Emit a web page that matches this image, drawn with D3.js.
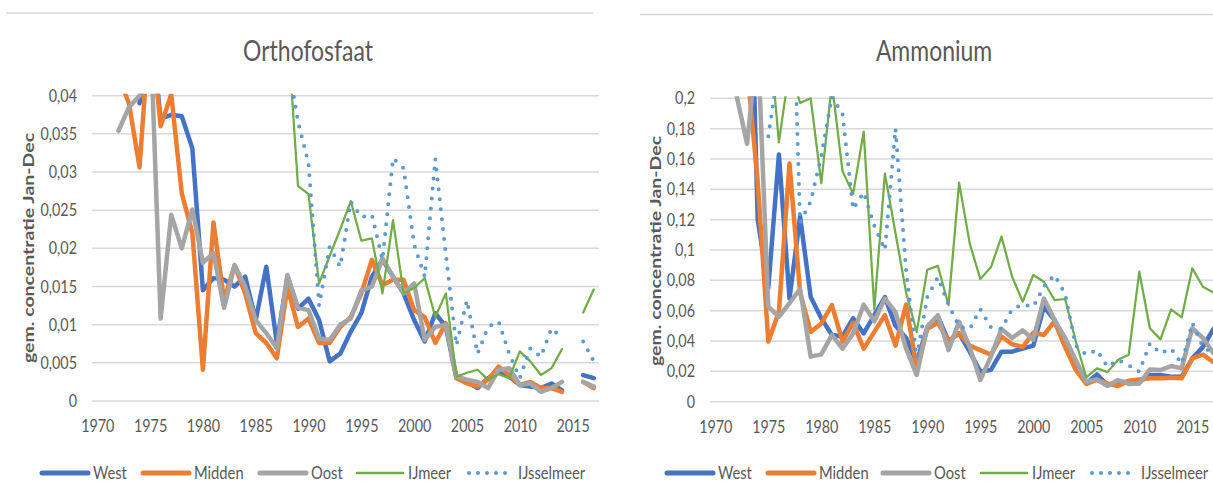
<!DOCTYPE html>
<html><head><meta charset="utf-8">
<script src="https://cdn.jsdelivr.net/npm/d3@7"></script>
<style>
html,body{margin:0;padding:0;background:#fff;}
svg{display:block;}
text{font-family:Lato,"Liberation Sans",Arial,sans-serif;fill:#595959;}
</style></head><body>
<svg id="c" width="1213" height="503"></svg>
<script>
// ---------- DATA ----------
const years = [1970,1971,1972,1973,1974,1975,1976,1977,1978,1979,
               1980,1981,1982,1983,1984,1985,1986,1987,1988,1989,
               1990,1991,1992,1993,1994,1995,1996,1997,1998,1999,
               2000,2001,2002,2003,2004,2005,2006,2007,2008,2009,
               2010,2011,2012,2013,2014,2015,2016,2017];
const xTickYears = [1970,1975,1980,1985,1990,1995,2000,2005,2010,2015];
const seriesNames = ["West","Midden","Oost","IJmeer","IJsselmeer"];
const seriesColors = ["#4472C4","#ED7D31","#A5A5A5","#70AD47","#5B9BD5"];

const yTicksP = [0,0.005,0.01,0.015,0.02,0.025,0.03,0.035,0.04];
const yTickLabelsP = ["0","0,005","0,01","0,015","0,02","0,025","0,03","0,035","0,04"];
const yTicksN = [0,0.02,0.04,0.06,0.08,0.1,0.12,0.14,0.16,0.18,0.2];
const yTickLabelsN = ["0","0,02","0,04","0,06","0,08","0,1","0,12","0,14","0,16","0,18","0,2"];

// Orthofosfaat
const pWest = [null,null,null,null,0.039,0.05,0.037,0.0375,0.0373,0.0331,
  0.0145,0.0161,0.0159,0.015,0.0163,0.0106,0.0176,0.0076,0.0163,0.0121,
  0.0134,0.0106,0.0052,0.0062,0.0091,0.0115,0.0163,0.0185,0.0163,0.0141,
  0.0106,0.0078,0.0115,0.0097,0.003,0.0025,0.0017,0.003,0.0038,0.0032,
  0.0021,0.0019,0.0017,0.0023,0.0014,null,0.0034,0.003];
const pMidden = [null,null,0.0425,0.039,0.0306,0.05,0.036,0.0402,0.0272,0.022,
  0.0041,0.0234,0.0132,0.0178,0.0141,0.0089,0.0076,0.0056,0.0149,0.0097,
  0.0108,0.0076,0.0076,0.0097,0.011,0.0141,0.0185,0.0152,0.0159,0.0159,
  0.0119,0.011,0.0076,0.0102,0.003,0.0023,0.0019,0.0028,0.0045,0.0034,
  0.0021,0.0025,0.0017,0.0017,0.0012,null,0.0025,0.0017];
const pOost = [null,null,0.0354,0.0385,0.040,0.05,0.0108,0.0244,0.020,0.0251,
  0.0181,0.0194,0.0122,0.0178,0.015,0.0106,0.0089,0.0069,0.0165,0.0122,
  0.0119,0.0082,0.008,0.01,0.0108,0.0145,0.015,0.0187,0.0163,0.0141,
  0.0154,0.008,0.0097,0.01,0.0032,0.0028,0.0025,0.0017,0.0041,0.0043,
  0.0021,0.0023,0.0012,0.0017,0.0025,null,0.0025,0.0019];
const pIJmeer = [null,null,null,null,null,null,null,null,null,null,
  null,null,null,null,null,null,null,null,0.049,0.0282,
  0.0271,0.0154,0.019,0.0225,0.0262,0.021,0.0213,0.0141,0.0237,0.0141,
  0.0148,0.0161,0.011,0.0141,0.0032,0.0037,0.0041,0.0028,0.0035,0.003,
  0.0065,0.0052,0.0034,0.0043,0.0068,null,0.0116,0.0146];
const pIJsselmeer = [null,null,null,null,null,null,null,null,null,null,
  null,null,null,null,null,null,null,null,0.045,0.0366,
  0.0311,0.0125,0.0202,0.0176,0.0261,0.0241,0.0244,0.0185,0.0318,0.0305,
  0.0205,0.0163,0.0317,0.0192,0.0073,0.0132,0.0062,0.0097,0.0104,0.0062,
  0.003,0.0069,0.0058,0.0095,0.0083,null,0.0078,0.0052];

// Ammonium
const nWest = [null,null,null,0.38,0.12,0.075,0.163,0.068,0.122,0.069,
  0.055,0.044,0.043,0.055,0.045,0.057,0.069,0.05,0.042,0.026,
  0.049,0.056,0.04,0.045,0.033,0.0198,0.021,0.033,0.033,0.035,
  0.037,0.0626,0.054,0.038,0.025,0.012,0.018,0.011,0.013,0.013,
  0.013,0.0176,0.0176,0.0165,0.0165,0.0286,0.036,0.048];
const nMidden = [null,null,null,0.22,0.145,0.0396,0.0593,0.157,0.072,0.046,
  0.0516,0.0637,0.0396,0.052,0.035,0.046,0.057,0.037,0.064,0.022,
  0.048,0.052,0.04,0.045,0.037,0.034,0.031,0.043,0.038,0.036,
  0.0455,0.044,0.053,0.036,0.021,0.0117,0.0143,0.012,0.0103,0.0138,
  0.0147,0.0154,0.0154,0.0158,0.0154,0.0286,0.031,0.026];
const nOost = [null,null,0.202,0.170,0.239,0.0626,0.056,0.065,0.0743,0.0297,
  0.0312,0.044,0.035,0.045,0.064,0.053,0.068,0.059,0.035,0.0176,
  0.0495,0.057,0.034,0.0528,0.036,0.0143,0.0297,0.048,0.042,0.047,
  0.041,0.068,0.054,0.042,0.0275,0.0132,0.0147,0.0103,0.0143,0.0117,
  0.012,0.0213,0.0209,0.0235,0.022,0.0484,0.042,0.032];
const nIJmeer = [null,null,null,null,null,0.25,0.171,0.22,0.197,0.2,
  0.144,0.21,0.152,0.137,0.178,0.061,0.1505,0.111,0.072,0.046,
  0.087,0.0895,0.0637,0.1444,0.1044,0.0809,0.0886,0.1088,0.0824,0.066,
  0.0835,0.0791,0.067,0.0677,0.04,0.016,0.022,0.0195,0.0277,0.031,
  0.0857,0.0484,0.0411,0.0609,0.0556,0.0879,0.0758,0.0719];
const nIJsselmeer = [null,null,null,null,null,0.175,0.222,0.35,0.118,0.132,
  0.162,0.201,0.19,0.127,0.138,0.116,0.1,0.18,0.086,0.029,
  0.069,0.082,0.064,0.0495,0.048,0.061,0.049,0.048,0.061,0.064,
  0.0626,0.076,0.0835,0.071,0.037,0.031,0.034,0.023,0.0275,0.024,
  0.0198,0.0385,0.032,0.035,0.025,0.052,0.036,0.032];

// ---------- DRAWING ----------
const SX = 0.82;           // horizontal squeeze of the text, as in the reference
const svg = d3.select("#c");

function ctext(g, str, x, y, size, anchor){
  return g.append("text")
    .attr("transform", `translate(${x},${y}) scale(${SX},1)`)
    .attr("text-anchor", anchor)
    .attr("dy", "0.35em")
    .style("font-size", size + "px")
    .text(str);
}

function drawChart(cfg){
  const g = svg.append("g");
  // chart area top border
  g.append("line").attr("x1", cfg.border[0]).attr("x2", cfg.border[1])
    .attr("y1", cfg.border[2]).attr("y2", cfg.border[2])
    .attr("stroke", "#d9d9d9").attr("stroke-width", 1.5);

  const x = d3.scalePoint().domain(years).range([cfg.plotL, cfg.plotR]).padding(0.5);
  const y = d3.scaleLinear().domain([0, cfg.max]).range([cfg.yBottom, cfg.yTop]);

  // gridlines
  g.append("g").selectAll("line").data(cfg.ticks).join("line")
    .attr("x1", cfg.plotL).attr("x2", cfg.plotR)
    .attr("y1", d => y(d)).attr("y2", d => y(d))
    .attr("stroke", "#d9d9d9").attr("stroke-width", 1.5);

  // y axis labels
  const ya = g.append("g").attr("transform", `translate(${cfg.plotL},0)`)
    .call(d3.axisLeft(y).tickValues(cfg.ticks)
      .tickFormat((d, i) => cfg.tickLabels[i]).tickSize(0).tickPadding(15 / SX));
  ya.select(".domain").remove();
  ya.selectAll("text").attr("transform", `scale(${SX},1)`)
    .style("font-size", "17.5px").style("font-family", null).attr("fill", "#595959");

  // x axis labels
  const xa = g.append("g").attr("transform", `translate(0,${cfg.yBottom})`)
    .call(d3.axisBottom(x).tickValues(xTickYears).tickSize(0).tickPadding(cfg.xPad));
  xa.select(".domain").remove();
  xa.selectAll("text").attr("transform", `scale(${SX},1)`)
    .style("font-size", "17.5px").style("font-family", null).attr("fill", "#595959");

  // title
  ctext(g, cfg.title, cfg.titleX, cfg.titleY, 28, "middle");
  // y-axis title (rotated; squeeze applies to the glyph height)
  g.append("text")
    .attr("transform", `translate(${cfg.yTitleX},${cfg.yTitleY}) scale(${SX},1) rotate(-90)`)
    .attr("text-anchor", "middle").attr("dy", "0.35em")
    .style("font-size", "19.5px").style("font-weight", "bold")
    .text("gem. concentratie Jan-Dec");

  // lines, clipped to plot area
  const clipId = "clip" + cfg.id;
  svg.append("clipPath").attr("id", clipId).append("rect")
    .attr("x", cfg.plotL).attr("y", cfg.yTop - 2)
    .attr("width", cfg.plotR - cfg.plotL).attr("height", cfg.yBottom - cfg.yTop + 8);
  const lg = g.append("g").attr("clip-path", `url(#${clipId})`);
  const line = d3.line().defined(d => d.v != null).x(d => x(d.yr)).y(d => y(d.v));
  cfg.series.forEach((vals, si) => {
    const pts = years.map((yr, i) => ({yr, v: vals[i]}));
    const p = lg.append("path").attr("d", line(pts)).attr("fill", "none")
      .attr("stroke", seriesColors[si]).attr("stroke-linejoin", "round")
      .attr("stroke-linecap", "round");
    if (si < 3) p.attr("stroke-width", 4.5);
    else if (si === 3) p.attr("stroke-width", 2.25);
    else p.attr("stroke-width", 4).attr("stroke-dasharray", "0 10");
  });

  // legend
  const leg = g.append("g");
  seriesNames.forEach((name, si) => {
    const lx = cfg.legendX[si];
    const l = leg.append("line").attr("x1", lx).attr("x2", lx + 46)
      .attr("y1", cfg.legendY).attr("y2", cfg.legendY)
      .attr("stroke", seriesColors[si]).attr("stroke-linecap", "round");
    if (si < 3) l.attr("stroke-width", 5);
    else if (si === 3) l.attr("stroke-width", 2.5);
    else l.attr("stroke-width", 4).attr("stroke-dasharray", "0 9").attr("x1", lx + 2).attr("x2", lx + 46);
    ctext(leg, name, lx + 51, cfg.legendY, 18, "start");
  });
}

drawChart({
  id: "P", border: [6, 593, 13],
  plotL: 92, plotR: 599, yBottom: 401, yTop: 95.7, max: 0.04,
  ticks: yTicksP, tickLabels: yTickLabelsP, xPad: 19,
  title: "Orthofosfaat", titleX: 308, titleY: 51,
  yTitleX: 28, yTitleY: 248,
  series: [pWest, pMidden, pOost, pIJmeer, pIJsselmeer],
  legendX: [42, 143, 260, 357, 467], legendY: 473
});
drawChart({
  id: "N", border: [640, 1213, 14.5],
  plotL: 710, plotR: 1218.8, yBottom: 401.7, yTop: 98.3, max: 0.2,
  ticks: yTicksN, tickLabels: yTickLabelsN, xPad: 19,
  title: "Ammonium", titleX: 934, titleY: 51,
  yTitleX: 655, yTitleY: 251,
  series: [nWest, nMidden, nOost, nIJmeer, nIJsselmeer],
  legendX: [667, 768, 883, 981, 1090], legendY: 473
});
</script>
</body></html>
